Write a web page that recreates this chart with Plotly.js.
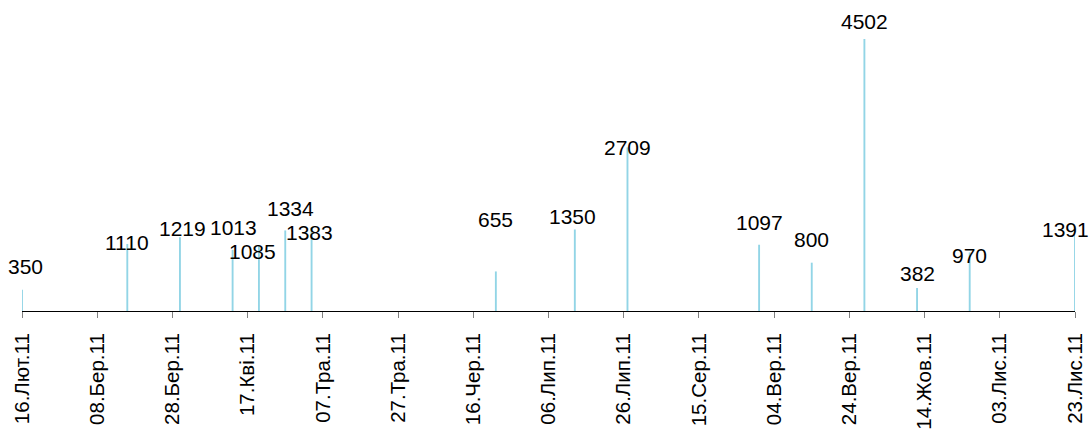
<!DOCTYPE html>
<html>
<head>
<meta charset="utf-8">
<script src="https://cdn.plot.ly/plotly-3.0.1.min.js"></script>
<style>html,body{margin:0;padding:0;background:#fff;}#chart{width:1090px;height:430px;}</style>
</head>
<body>
<div id="chart"></div>
<script>
// Data
var dates = ['2011-02-16','2011-03-16','2011-03-30','2011-04-13','2011-04-20','2011-04-27','2011-05-04',
             '2011-06-22','2011-07-13','2011-07-27','2011-08-31','2011-09-14','2011-09-28','2011-10-12',
             '2011-10-26','2011-11-23'];
var values = [350,1110,1219,1013,1085,1334,1383,655,1350,2709,1097,800,4502,382,970,1391];

var tickDates = ['2011-02-16','2011-03-08','2011-03-28','2011-04-17','2011-05-07','2011-05-27','2011-06-16',
                 '2011-07-06','2011-07-26','2011-08-15','2011-09-04','2011-09-24','2011-10-14','2011-11-03','2011-11-23'];
var tickLabels = ['16.Лют.11','08.Бер.11','28.Бер.11','17.Кві.11','07.Тра.11','27.Тра.11','16.Чер.11',
                  '06.Лип.11','26.Лип.11','15.Сер.11','04.Вер.11','24.Вер.11','14.Жов.11','03.Лис.11','23.Лис.11'];

// label placement offsets (pixels) – styling only
var labelDx = [3,0,2.5,0.5,-6.5,5,-2.5,0,-2.5,0,0,0,0,0,0,-10];
var labelDy = [23,1.5,8.7,22.8,-6.2,22,-5.3,52,12.5,0,22,23,18,14,-2.6,-2.5];

var annotations = dates.map(function(d,i){
  return {x:d, y:values[i], xref:'x', yref:'y', text:String(values[i]), showarrow:false,
          xanchor:'center', yanchor:'middle', xshift:labelDx[i], yshift:labelDy[i],
          font:{family:'Liberation Sans, Arial, sans-serif', size:21, color:'#000'}};
});

var trace = {
  type:'bar', x:dates, y:values,
  width: 0.5*86400000,
  marker:{color:'#92d5e6', line:{width:0}},
  cliponaxis:false, hoverinfo:'none'
};

var layout = {
  width:1090, height:430,
  margin:{l:22, r:15, t:9, b:119, pad:0},
  paper_bgcolor:'#fff', plot_bgcolor:'#fff',
  showlegend:false,
  font:{family:'Liberation Sans, Arial, sans-serif', color:'#000'},
  xaxis:{
    type:'date', range:['2011-02-16','2011-11-23'],
    tickmode:'array', tickvals:tickDates, ticktext:tickLabels,
    tickangle:-90, tickfont:{size:20.5, color:'#000'},
    ticks:'outside', ticklen:6, tickcolor:'#808080', tickwidth:1,
    ticklabelstandoff:7,
    showline:true, linecolor:'#000', linewidth:1,
    showgrid:false, zeroline:false, fixedrange:true
  },
  yaxis:{
    range:[0,5000], visible:false, showgrid:false, zeroline:false, fixedrange:true
  },
  annotations:annotations
};

Plotly.newPlot('chart',[trace],layout,{staticPlot:true, displayModeBar:false});
</script>
</body>
</html>
